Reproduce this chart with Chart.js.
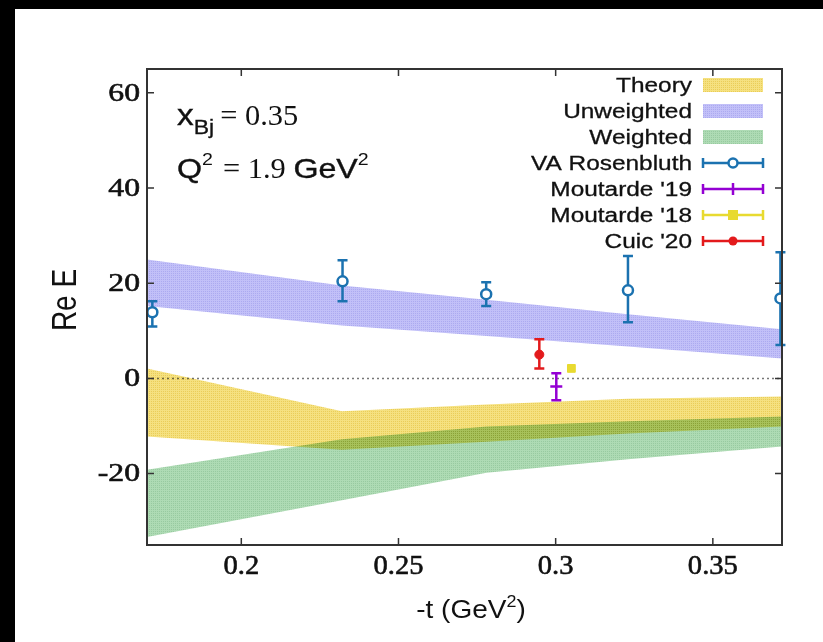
<!DOCTYPE html>
<html>
<head>
  <meta charset="UTF-8">
  <title>Re E vs -t</title>
  <script src="https://cdn.jsdelivr.net/npm/chart.js"></script>
  <style>
    html, body { margin: 0; padding: 0; background: #000; }
    #frame {
      position: absolute;
      left: 15px; top: 9px;
      width: 808px; height: 633px;
      background: #fff;
    }
  </style>
</head>
<body>
  <div id="frame"><canvas id="reChart"></canvas></div>

  <script>
    // ---- data ----
    const xTicks = [0.2, 0.25, 0.3, 0.35];
    const yTicks = [-20, 0, 20, 40, 60];

    // bands (upper / lower edges at these -t values)
    const bandT = [0.17, 0.232, 0.278, 0.323, 0.372];
    const theoryHi = [2.1, -6.9, -5.5, -4.3, -3.8];
    const theoryLo = [-12.2, -15.0, -13.3, -11.6, -10.1];
    const unweightedHi = [25.0, 19.5, 16.5, 13.5, 10.3];
    const unweightedLo = [15.2, 11.1, 8.9, 6.7, 4.2];
    const weightedHi = [-19.2, -12.8, -10.1, -9.0, -8.0];
    const weightedLo = [-33.3, -25.6, -19.8, -17.0, -14.3];

    // points with error bars
    const rosenT = [0.1717, 0.2322, 0.2779, 0.323, 0.3715];
    const rosenE = [13.9, 20.4, 17.7, 18.5, 16.8];
    const rosenLo = [10.9, 16.2, 15.2, 11.8, 7.0];
    const rosenHi = [16.2, 24.8, 20.2, 25.7, 26.5];

    const mout19T = [0.3002], mout19E = [-1.7], mout19Lo = [-4.6], mout19Hi = [1.1];
    const mout18T = [0.305], mout18E = [2.1], mout18Lo = [2.1], mout18Hi = [2.1];
    const cuicT = [0.2948], cuicE = [5.0], cuicLo = [2.1], cuicHi = [8.2];

    const legendLabels = ['Theory', 'Unweighted', 'Weighted', 'VA Rosenbluth', "Moutarde '19", "Moutarde '18", "Cuic '20"];

    // ---- colours / fonts ----
    const BLUE = '#1b72b0', PURPLE = '#9400d3', YELLOW = '#e8da30', RED = '#e31a1c';
    const SANS = '"Liberation Sans", Arial, sans-serif';
    const SERIF = '"Liberation Serif", "Times New Roman", serif';

    function makePattern(base, dot) {
      const c = document.createElement('canvas');
      c.width = 2; c.height = 2;
      const g = c.getContext('2d');
      g.fillStyle = base; g.fillRect(0, 0, 2, 2);
      g.fillStyle = dot; g.fillRect(0, 0, 1, 1);
      return g.createPattern(c, 'repeat');
    }
    const ctx = document.getElementById('reChart').getContext('2d');
    const theoryFill = makePattern('rgb(245,225,128)', 'rgb(234,205,88)');
    const unwFill = makePattern('rgb(194,192,248)', 'rgb(172,170,240)');
    const wFill = makePattern('rgb(174,219,180)', 'rgb(152,202,160)');

    const pts = (xs, ys) => xs.map((x, i) => ({ x: x, y: ys[i] }));

    function band(ys, fillStyle, isTop) {
      return {
        data: pts(bandT, ys), showLine: true, borderWidth: 0, borderColor: 'rgba(0,0,0,0)',
        pointRadius: 0, tension: 0, fill: isTop ? '+1' : false, backgroundColor: fillStyle, band: true
      };
    }

    const datasets = [
      { data: pts(rosenT, rosenE), errLo: rosenLo, errHi: rosenHi, color: BLUE,
        pointStyle: 'circle', pointRadius: 5, borderWidth: 2.5, borderColor: BLUE, backgroundColor: '#fff' },
      { data: pts(mout19T, mout19E), errLo: mout19Lo, errHi: mout19Hi, color: PURPLE,
        pointStyle: 'line', pointRadius: 6, borderWidth: 2.5, borderColor: PURPLE, backgroundColor: PURPLE },
      { data: pts(mout18T, mout18E), errLo: mout18Lo, errHi: mout18Hi, color: YELLOW,
        pointStyle: 'rect', pointRadius: 5.5, borderWidth: 1, borderColor: YELLOW, backgroundColor: YELLOW },
      { data: pts(cuicT, cuicE), errLo: cuicLo, errHi: cuicHi, color: RED,
        pointStyle: 'circle', pointRadius: 4.5, borderWidth: 1, borderColor: RED, backgroundColor: RED },
      band(unweightedHi, unwFill, true), band(unweightedLo, unwFill, false),
      band(weightedHi, wFill, true), band(weightedLo, wFill, false),
      band(theoryHi, theoryFill, true), band(theoryLo, theoryFill, false)
    ];

    // text drawn a bit wider than the font, as in the original figure
    function textWidth(c, p) {
      c.font = p.font;
      return c.measureText(p.t).width * p.sx + (p.gap || 0);
    }
    function drawRun(c, parts, x, y, align) {
      const total = parts.reduce((s, p) => s + textWidth(c, p), 0);
      let cx = align === 'right' ? x - total : align === 'center' ? x - total / 2 : x;
      parts.forEach(p => {
        c.save();
        c.font = p.font;
        c.textAlign = 'left';
        c.translate(cx, y + (p.dy || 0));
        c.scale(p.sx, 1);
        c.fillText(p.t, 0, 0);
        if (p.heavy) { c.lineWidth = p.heavy; c.strokeStyle = c.fillStyle; c.strokeText(p.t, 0, 0); }
        c.restore();
        cx += textWidth(c, p);
      });
      return total;
    }

    function drawErrBar(c, x, yTop, yBot, color, cap) {
      c.strokeStyle = color; c.lineWidth = 2.5;
      c.beginPath();
      c.moveTo(x, yTop); c.lineTo(x, yBot);
      c.moveTo(x - cap, yTop); c.lineTo(x + cap, yTop);
      c.moveTo(x - cap, yBot); c.lineTo(x + cap, yBot);
      c.stroke();
    }

    const figurePlugin = {
      id: 'figure',
      beforeDatasetsDraw(chart) {
        const c = chart.ctx, a = chart.chartArea, ys = chart.scales.y;
        c.save();
        c.strokeStyle = '#777'; c.lineWidth = 1.5; c.setLineDash([2, 3]);
        const y0 = ys.getPixelForValue(0);
        c.beginPath(); c.moveTo(a.left, y0); c.lineTo(a.right, y0); c.stroke();
        c.restore();
        c.globalCompositeOperation = 'multiply';
      },
      beforeDatasetDraw(chart, args) {
        const ds = chart.data.datasets[args.index];
        if (ds.band) return;
        const c = chart.ctx;
        c.globalCompositeOperation = 'source-over';
        const xs = chart.scales.x, ys = chart.scales.y;
        c.save();
        ds.data.forEach((p, i) => {
          if (ds.errHi[i] === ds.errLo[i]) return;
          drawErrBar(c, xs.getPixelForValue(p.x), ys.getPixelForValue(ds.errHi[i]),
            ys.getPixelForValue(ds.errLo[i]), ds.color, 5);
        });
        c.restore();
      },
      afterDatasetsDraw(chart) {
        chart.ctx.globalCompositeOperation = 'source-over';
      },
      afterDraw(chart) {
        const c = chart.ctx, a = chart.chartArea, xs = chart.scales.x, ys = chart.scales.y;
        c.save();
        // frame + inward ticks on all sides
        c.strokeStyle = '#333'; c.lineWidth = 2;
        c.strokeRect(a.left, a.top, a.right - a.left, a.bottom - a.top);
        c.lineWidth = 1.5;
        c.beginPath();
        xTicks.forEach(v => {
          const px = xs.getPixelForValue(v);
          c.moveTo(px, a.bottom); c.lineTo(px, a.bottom - 7);
          c.moveTo(px, a.top); c.lineTo(px, a.top + 7);
        });
        yTicks.forEach(v => {
          const py = ys.getPixelForValue(v);
          c.moveTo(a.left, py); c.lineTo(a.left + 7, py);
          c.moveTo(a.right, py); c.lineTo(a.right - 7, py);
        });
        c.stroke();

        // tick labels
        c.fillStyle = '#111';
        c.textBaseline = 'middle';
        yTicks.forEach(v => {
          drawRun(c, [{ t: String(v), font: '26px ' + SERIF, sx: 1.22, heavy: 0.6 }],
            a.left - 7, ys.getPixelForValue(v) + 1, 'right');
        });
        c.textBaseline = 'top';
        xTicks.forEach(v => {
          drawRun(c, [{ t: String(v), font: '28px ' + SERIF, sx: 1.02, heavy: 0.6 }],
            xs.getPixelForValue(v), a.bottom + 8, 'center');
        });

        // axis titles
        c.textBaseline = 'alphabetic';
        drawRun(c, [
          { t: '-t (GeV', font: '25px ' + SANS, sx: 1.12 },
          { t: '2', font: '16px ' + SANS, sx: 1.12, dy: -11 },
          { t: ')', font: '25px ' + SANS, sx: 1.12 }
        ], 456, 609, 'center');
        c.save();
        c.translate(61, 291);
        c.rotate(-Math.PI / 2);
        c.scale(1, 1.25);
        c.textAlign = 'center';
        c.font = '28px ' + SANS;
        c.fillText('Re E', 0, 0);
        c.restore();

        // annotation
        drawRun(c, [
          { t: 'x', font: '29px ' + SANS, sx: 1.15, heavy: 0.4 },
          { t: 'Bj', font: '20px ' + SANS, sx: 1.15, dy: 9, gap: 6, heavy: 0.3 },
          { t: '= 0.35', font: '29px ' + SERIF, sx: 1.05 }
        ], 162, 116, 'left');
        drawRun(c, [
          { t: 'Q', font: '28px ' + SANS, sx: 1.15, heavy: 0.4 },
          { t: '2', font: '17px ' + SANS, sx: 1.15, dy: -13, gap: 10 },
          { t: '= 1.9 ', font: '29px ' + SERIF, sx: 1.05 },
          { t: 'GeV', font: '28px ' + SANS, sx: 1.15, heavy: 0.4 },
          { t: '2', font: '17px ' + SANS, sx: 1.15, dy: -13 }
        ], 162, 169, 'left');

        // legend
        const fills = [theoryFill, unwFill, wFill];
        const lineCols = [BLUE, PURPLE, YELLOW, RED];
        c.textBaseline = 'middle';
        legendLabels.forEach((lab, i) => {
          const cy = 76 + i * 26;
          c.fillStyle = '#111';
          drawRun(c, [{ t: lab, font: '20px ' + SANS, sx: 1.22, heavy: 0.3 }], 677, cy + 1, 'right');
          if (i < 3) {
            c.fillStyle = fills[i];
            c.fillRect(688, cy - 7, 60, 14);
          } else {
            const col = lineCols[i - 3];
            c.strokeStyle = col; c.lineWidth = 2.5;
            c.beginPath();
            c.moveTo(688, cy); c.lineTo(748, cy);
            c.moveTo(688, cy - 5); c.lineTo(688, cy + 5);
            c.moveTo(748, cy - 5); c.lineTo(748, cy + 5);
            c.stroke();
            c.fillStyle = col;
            if (i === 3) {
              c.fillStyle = '#fff';
              c.beginPath(); c.arc(718, cy, 4.5, 0, Math.PI * 2); c.fill(); c.stroke();
            } else if (i === 4) {
              c.beginPath(); c.moveTo(718, cy - 6); c.lineTo(718, cy + 6); c.stroke();
            } else if (i === 5) {
              c.fillRect(713, cy - 5, 10, 10);
            } else {
              c.beginPath(); c.arc(718, cy, 4.5, 0, Math.PI * 2); c.fill();
            }
          }
        });
        c.restore();
      }
    };

    new Chart(ctx, {
      type: 'scatter',
      data: { datasets: datasets },
      options: {
        responsive: true,
        maintainAspectRatio: false,
        animation: false,
        layout: { padding: { top: 60, right: 41, left: 0, bottom: 0 } },
        plugins: { legend: { display: false }, tooltip: { enabled: false } },
        scales: {
          x: {
            type: 'linear', min: 0.17, max: 0.372,
            grid: { display: false }, border: { display: false },
            ticks: { display: false },
            afterFit: s => { s.height = 97; }
          },
          y: {
            type: 'linear', min: -35, max: 65,
            grid: { display: false }, border: { display: false },
            ticks: { display: false },
            afterFit: s => { s.width = 132; }
          }
        }
      },
      plugins: [figurePlugin]
    });
  </script>
</body>
</html>
